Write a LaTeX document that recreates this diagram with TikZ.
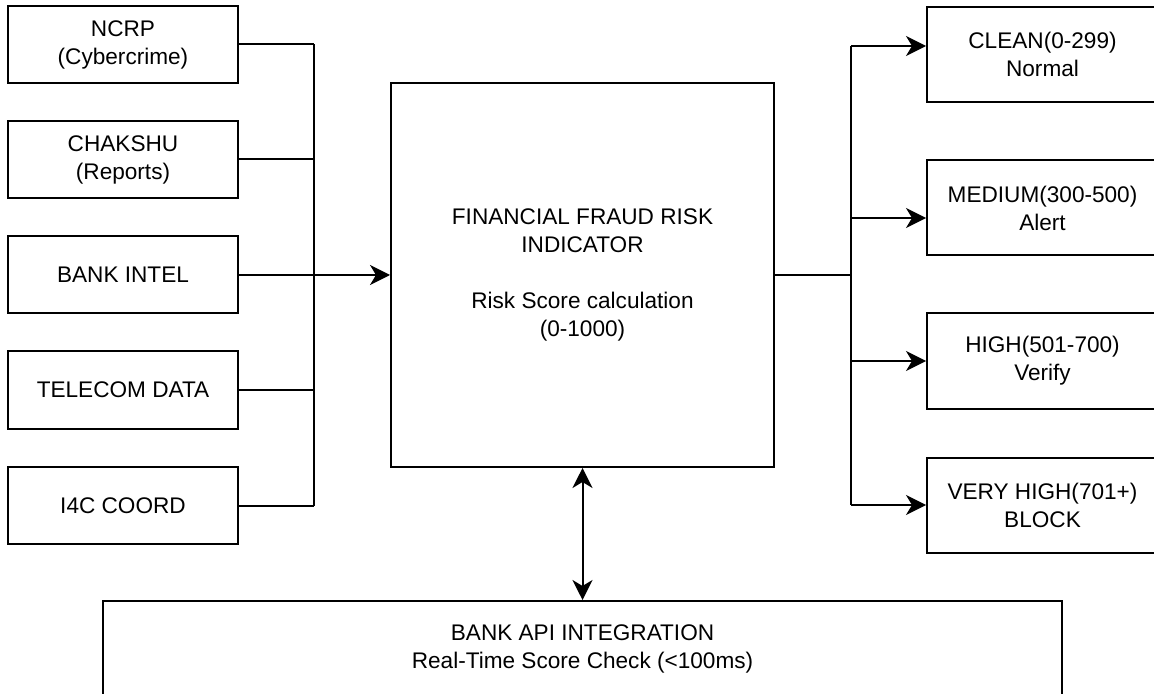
\documentclass[tikz,border=0pt]{standalone}
\usepackage{fontspec}
\setmainfont{Liberation Sans}
\usetikzlibrary{arrows.meta}
\begin{document}
\begin{tikzpicture}[x=0.5pt,y=-0.5pt,
  line width=1pt,
  box/.style={draw, line width=1pt, inner sep=0pt, align=center,
    font=\fontsize{11.3}{14}\selectfont},
  srcbox/.style={box, minimum width=115.25pt, minimum height=38.5pt},
  outbox/.style={box, minimum width=115.5pt, minimum height=47.5pt},
  arr/.style={-{Stealth[length=10pt,width=10pt,inset=3pt]}},
  darr/.style={{Stealth[length=10pt,width=10pt,inset=3pt]}-{Stealth[length=10pt,width=10pt,inset=3pt]}}
]
\clip (0,0) rectangle (1154,694);
\fill[white] (0,0) rectangle (1154,694);

% sources
\node[srcbox] (ncrp) at (123,44.5) {NCRP\\(Cybercrime)};
\node[srcbox] (chakshu) at (123,159.5) {CHAKSHU\\(Reports)};
\node[srcbox] (bank) at (123,275) {BANK INTEL};
\node[srcbox] (telecom) at (123,390) {TELECOM DATA};
\node[srcbox] (i4c) at (123,505.5) {I4C COORD};

% central
\node[box, minimum width=191.5pt, minimum height=192pt] (fri) at (582.5,275)
  {FINANCIAL FRAUD RISK\\INDICATOR\\[14pt]Risk Score calculation\\(0-1000)};

% outputs
\node[outbox] (clean) at (1042.5,54.5) {CLEAN(0-299)\\Normal};
\node[outbox] (medium) at (1042.5,208) {MEDIUM(300-500)\\Alert};
\node[outbox] (high) at (1042.5,361) {HIGH(501-700)\\Verify};
\node[outbox] (vhigh) at (1042.5,505.5) {VERY HIGH(701+)\\BLOCK};

% bottom
\node[box, minimum width=479.5pt, minimum height=47.5pt] (api) at (582.5,648.5)
  {BANK API INTEGRATION\\Real-Time Score Check (<100ms)};

% left bus
\coordinate (lbx) at (314,0);
\draw (ncrp.east) -- (ncrp.east -| lbx);
\draw (chakshu.east) -- (chakshu.east -| lbx);
\draw (telecom.east) -- (telecom.east -| lbx);
\draw (i4c.east) -- (i4c.east -| lbx);
\draw (ncrp.east -| lbx) -- (i4c.east -| lbx);
\draw[arr] (bank.east) -- (fri.west);

% right bus
\coordinate (rbx) at (851,0);
\coordinate (r1) at (851,46);
\coordinate (r2) at (851,218);
\coordinate (r3) at (851,361);
\coordinate (r4) at (851,505);
\draw (fri.east) -- (fri.east -| rbx);
\draw (r1) -- (r4);
\draw[arr] (r1) -- (r1 -| clean.west);
\draw[arr] (r2) -- (r2 -| medium.west);
\draw[arr] (r3) -- (r3 -| high.west);
\draw[arr] (r4) -- (r4 -| vhigh.west);

% api link
\draw[darr] (fri.south) -- (api.north);
\end{tikzpicture}
\end{document}
